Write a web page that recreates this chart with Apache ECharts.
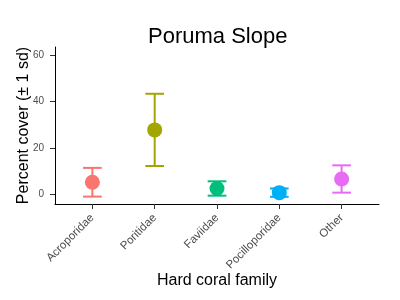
<!DOCTYPE html>
<html>
<head>
<meta charset="utf-8">
<script src="https://cdn.jsdelivr.net/npm/echarts@6/dist/echarts.min.js"></script>
<style>
 html, body { margin: 0; padding: 0; background: #fff; }
 #main { width: 400px; height: 300px; }
</style>
</head>
<body>
<div id="main"></div>
<script>
/** 数据 **/
var families = ['Acroporidae', 'Poritidae', 'Faviidae', 'Pocilloporidae', 'Other'];
var meanCover = [5.2, 27.8, 2.5, 0.7, 6.6];
var sdCover = [6.2, 15.6, 3.1, 1.8, 5.9];
var colors = ['#F8766D', '#A3A500', '#00BF7D', '#00B0F6', '#E76BF3'];
var yTicks = [0, 20, 40, 60];
var xTicks = [1, 2, 3, 4, 5];

var chart = echarts.init(document.getElementById('main'));

var points = [];
var bars = [];
families.forEach(function(name, i) {
  points.push({
    value: [i + 1, meanCover[i]],
    itemStyle: { color: colors[i], opacity: 1 }
  });
  bars.push([i + 1, meanCover[i] - sdCover[i], meanCover[i] + sdCover[i], i]);
});

var font = 'Liberation Sans, Arial, sans-serif';

var option = {
  animation: false,
  title: {
    text: 'Poruma Slope',
    left: 143,
    top: 21,
    textStyle: {
      fontFamily: font,
      fontSize: 22,
      fontWeight: 'normal',
      color: '#000'
    }
  },
  grid: {
    left: 55,
    right: 21,
    top: 47,
    bottom: 96
  },
  xAxis: {
    type: 'value',
    min: 0.4,
    max: 5.6,
    name: 'Hard coral family',
    nameLocation: 'middle',
    nameGap: 69,
    nameMoveOverlap: false,
    nameTextStyle: { fontFamily: font, fontSize: 16, color: '#000' },
    splitLine: { show: false },
    axisLine: { onZero: false, lineStyle: { color: '#000', width: 1 } },
    axisTick: { length: 5, customValues: xTicks, lineStyle: { color: '#333' } },
    axisLabel: {
      customValues: xTicks,
      rotate: 45,
      margin: 12,
      fontFamily: font,
      fontSize: 11.5,
      color: '#4D4D4D',
      formatter: function(v) {
        return families[Math.round(v) - 1] || '';
      }
    }
  },
  yAxis: {
    type: 'value',
    min: -4.2,
    max: 63.6,
    name: 'Percent cover (\u00B1 1 sd)',
    nameLocation: 'middle',
    nameGap: 23,
    nameMoveOverlap: false,
    nameTextStyle: { fontFamily: font, fontSize: 16, color: '#000' },
    splitLine: { show: false },
    axisLine: { show: true, onZero: false, lineStyle: { color: '#000', width: 1 } },
    axisTick: { show: true, length: 5, customValues: yTicks, lineStyle: { color: '#333' } },
    axisLabel: {
      customValues: yTicks,
      margin: 11,
      fontFamily: font,
      fontSize: 10,
      color: '#4D4D4D'
    }
  },
  series: [
    {
      type: 'custom',
      data: bars,
      z: 2,
      renderItem: function(params, api) {
        var x = api.value(0);
        var lo = api.coord([x, api.value(1)]);
        var hi = api.coord([x, api.value(2)]);
        var half = api.size([0.15, 0])[0];
        var style = { stroke: colors[api.value(3)], lineWidth: 2 };
        return {
          type: 'group',
          children: [
            { type: 'line', shape: { x1: lo[0], y1: lo[1], x2: hi[0], y2: hi[1] }, style: style },
            { type: 'line', shape: { x1: lo[0] - half, y1: lo[1], x2: lo[0] + half, y2: lo[1] }, style: style },
            { type: 'line', shape: { x1: hi[0] - half, y1: hi[1], x2: hi[0] + half, y2: hi[1] }, style: style }
          ]
        };
      }
    },
    {
      type: 'scatter',
      data: points,
      symbol: 'circle',
      symbolSize: 15,
      z: 3
    }
  ]
};

chart.setOption(option);
</script>
</body>
</html>
